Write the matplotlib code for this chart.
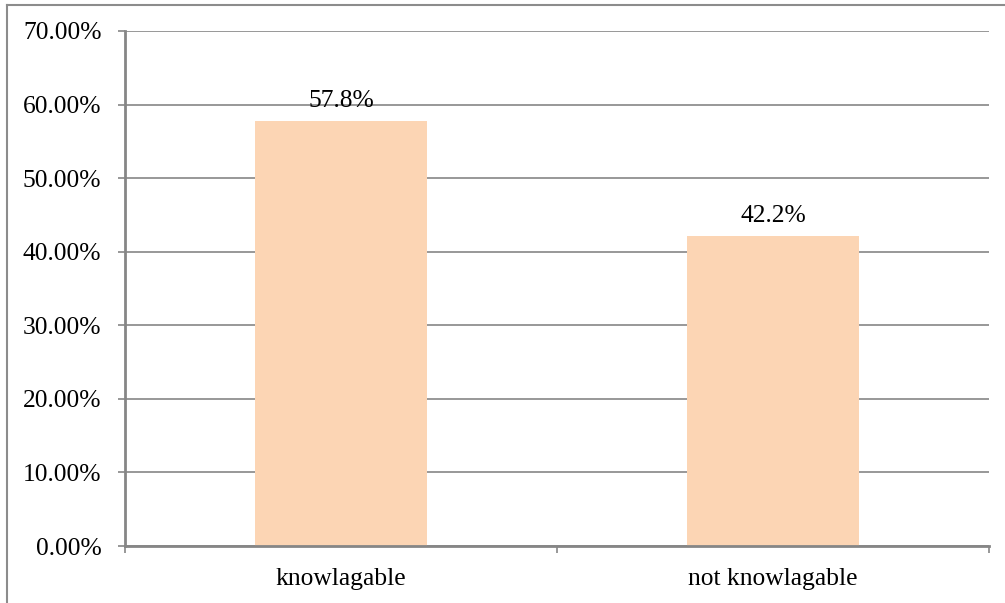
import matplotlib.pyplot as plt
from matplotlib.lines import Line2D

categories = ["knowlagable", "not knowlagable"]
values = [57.8, 42.2]
value_labels = ["57.8%", "42.2%"]
y_ticks = [0, 10, 20, 30, 40, 50, 60, 70]

plt.rcParams['font.family'] = ['Liberation Serif', 'DejaVu Serif']

grid_col = '#868686'
bar_col = '#FCD5B4'
fs = 18.4

fig = plt.figure(figsize=(10.05, 6.03), dpi=100)
ax = fig.add_axes([0.1244, 0.0945, 0.8597, 0.8541])

x = list(range(len(categories)))
bars = ax.bar(x, values, width=0.4, color=bar_col, zorder=2)

for xi, v, lab in zip(x, values, value_labels):
    ax.annotate(lab, xy=(xi, v), xytext=(0, 6.5), textcoords='offset points',
                ha='center', va='bottom', fontsize=fs, zorder=3)

ax.set_xlim(-0.5, len(categories) - 0.5)
ax.set_ylim(0, 70)
ax.set_yticks(y_ticks)
ax.set_yticklabels([f"{t:.2f}%" for t in y_ticks], fontsize=fs)
ax.set_xticks(x)
ax.set_xticklabels(categories, fontsize=fs)
ax.set_xticks([-0.5, 0.5, 1.5], minor=True)

ax.yaxis.grid(True, color=grid_col, lw=1.2, zorder=0)
ax.set_axisbelow(True)
for s in ['top', 'right']:
    ax.spines[s].set_visible(False)
for s in ['left', 'bottom']:
    ax.spines[s].set_color(grid_col)
    ax.spines[s].set_linewidth(2)
ax.tick_params(axis='y', length=5, width=1.2, color=grid_col, pad=12)
ax.tick_params(axis='x', which='major', length=0, pad=16)
ax.tick_params(axis='x', which='minor', length=5, width=1.2, color=grid_col)

# outer chart frame (left and top edges visible)
fig.add_artist(Line2D([7 / 1005, 7 / 1005], [0, 1 - 5 / 603], color='#8c8c8c', lw=1.5,
                      transform=fig.transFigure))
fig.add_artist(Line2D([7 / 1005, 1], [1 - 5 / 603, 1 - 5 / 603], color='#8c8c8c', lw=1.5,
                      transform=fig.transFigure))

fig.savefig("out.png", dpi=100)
